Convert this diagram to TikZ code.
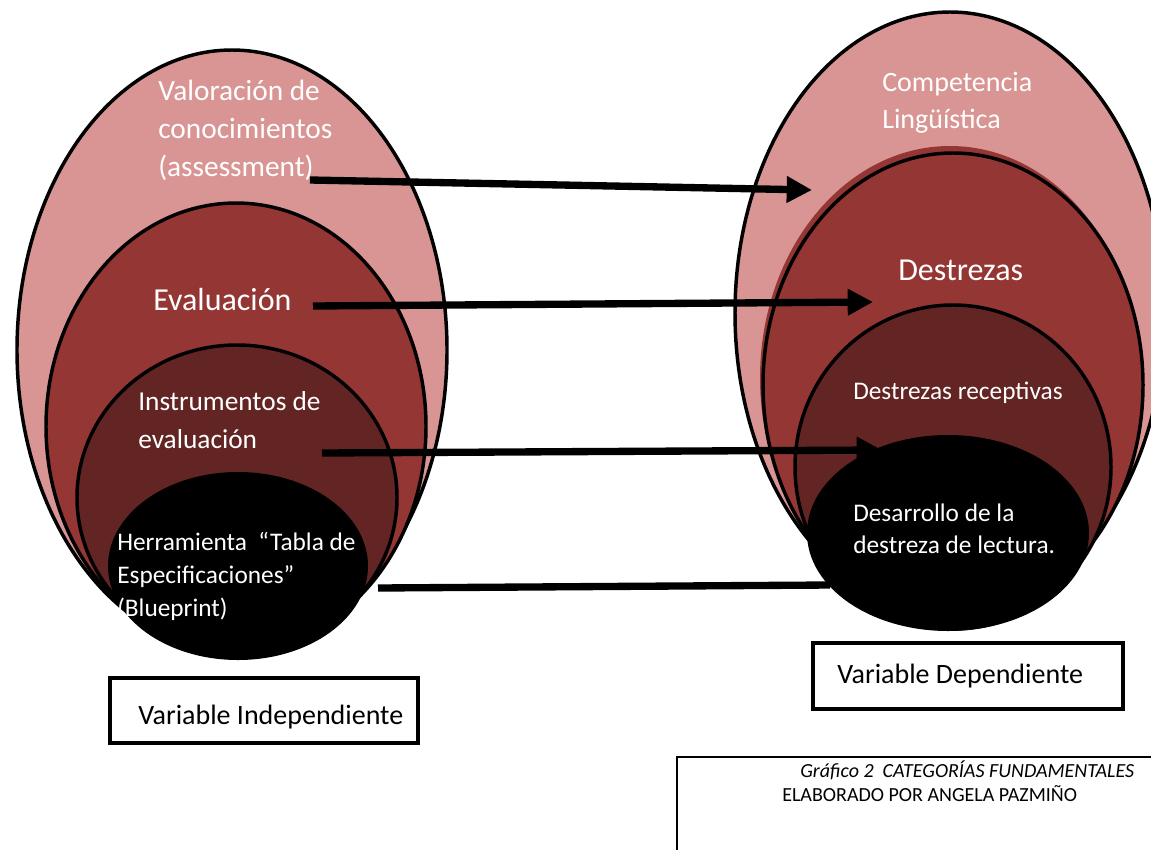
\documentclass[tikz,border=0pt]{standalone}
\usepackage{fontspec}
\setmainfont{Carlito}
\usepackage{xcolor}
\usetikzlibrary{arrows.meta}

\definecolor{pinkrose}{HTML}{D99594}
\definecolor{redbrick}{HTML}{943634}
\definecolor{darkbrick}{HTML}{632523}

\begin{document}
\begin{tikzpicture}[x=0.75pt,y=-0.75pt,
    rim/.style={draw=black,line width=2.6pt},
    link/.style={line width=5.5pt},
    arrowlink/.style={link,-{Triangle[length=19pt,width=19pt]}},
    intext/.style={inner sep=0pt,anchor=base west,align=left,text=white},
    boxtext/.style={inner sep=0pt,anchor=base west,align=left,text=black,font=\fontsize{21}{25}\selectfont},
    varbox/.style={draw=black,line width=3pt}]
    \useasboundingbox (0,0) rectangle (1151,849);

    % Variable independiente
    \begin{scope}
        \draw[rim,fill=pinkrose] (232,350) ellipse (215 and 300); % Valoracion
        \draw[rim,fill=redbrick] (236,426.5) ellipse (190 and 223.5); % Evaluacion
        \draw[rim,fill=darkbrick] (237,497.5) ellipse (160 and 152.5); % Instrumentos
        \fill[black] (238,566) ellipse (130 and 94); % Herramienta
    \end{scope}

    % Variable dependiente
    \begin{scope}
        \draw[rim,fill=pinkrose] (950,313) ellipse (215 and 301); % Competencia
        \fill[redbrick] (950,378) ellipse (190 and 232); % shadow
        \draw[rim,fill=redbrick] (953,385) ellipse (190 and 232); % Destrezas
        \draw[rim,fill=darkbrick] (953,467) ellipse (158 and 162); % Receptivas
        \fill[black] (948,533) ellipse (141 and 98); % Lectura
    \end{scope}

    % connectors
    \coordinate (valo-out) at (310,180);
    \coordinate (comp-in) at (812,190);
    \coordinate (eval-out) at (313,306);
    \coordinate (destr-in) at (873,302);
    \coordinate (instr-out) at (322,453);
    \coordinate (recep-in) at (882,450);
    \coordinate (herr-out) at (378,588);
    \coordinate (lect-in) at (830,585);
    \draw[arrowlink] (valo-out) -- (comp-in);
    \draw[arrowlink] (eval-out) -- (destr-in);
    \draw[arrowlink] (instr-out) -- (recep-in);
    \draw[link] (herr-out) -- (lect-in);

    % labels (base = last line)
    \node[intext,font=\fontsize{22}{28.5}\selectfont] (valoracion) at (158,176) {Valoración de\\conocimientos\\(assessment)};
    \node[intext,font=\fontsize{24}{29}\selectfont] (evaluacion) at (153,310) {Evaluación};
    \node[intext,font=\fontsize{20.5}{28.5}\selectfont] (instrumentos) at (138,448) {Instrumentos de\\evaluación};
    \node[intext,font=\fontsize{19}{24.75}\selectfont] (herramienta) at (117,616) {Herramienta\ \ “Tabla de\\Especificaciones”\\(Blueprint)};
    \node[intext,font=\fontsize{21}{27.5}\selectfont] (competencia) at (882,128) {Competencia\\Lingüística};
    \node[intext,font=\fontsize{24}{29}\selectfont] (destrezas) at (898,280) {Destrezas};
    \node[intext,font=\fontsize{19}{24}\selectfont] (receptivas) at (853,399) {Destrezas receptivas};
    \node[intext,font=\fontsize{19}{24}\selectfont] (lectura) at (853,553) {Desarrollo de la\\destreza de lectura.};

    % boxes
    \draw[varbox] (110,678) rectangle (418,743);
    \node[boxtext] (vindep) at (138,724) {Variable Independiente};
    \draw[varbox] (813,643) rectangle (1123,709);
    \node[boxtext] (vdep) at (837,683) {Variable Dependiente};

    % caption
    \draw[line width=1.5pt] (1160,757) -- (677,757) -- (677,860);
    \node[boxtext,font=\fontsize{15}{18}\selectfont\itshape] (grafico) at (800,777) {Gráfico 2\ \ CATEGORÍAS FUNDAMENTALES};
    \node[boxtext,font=\fontsize{15}{18}\selectfont] (elaborado) at (782,801) {ELABORADO POR ANGELA PAZMIÑO};
\end{tikzpicture}
\end{document}
